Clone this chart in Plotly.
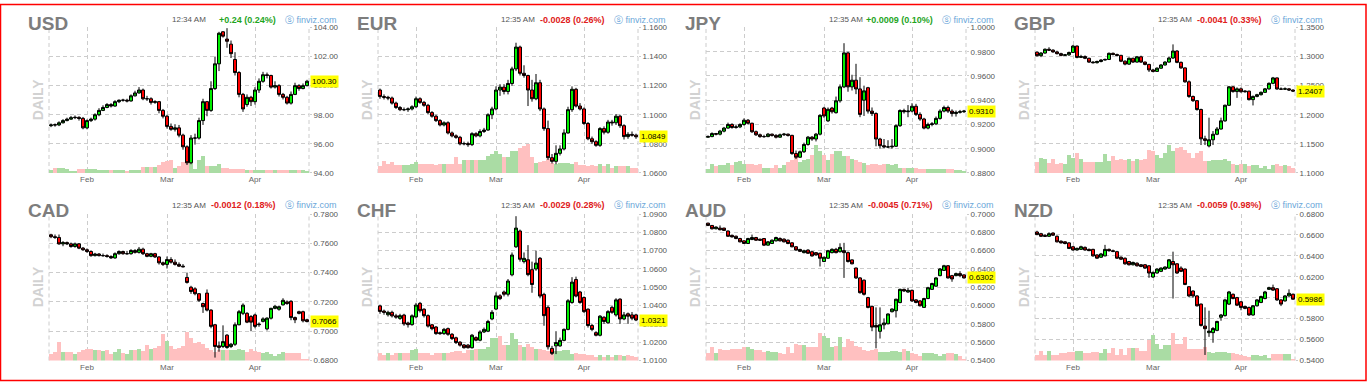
import plotly.graph_objects as go
import pandas as pd

# ---------------- shared categories ----------------
dates = [d.strftime('%Y-%m-%d') for d in pd.bdate_range('2020-01-21', periods=65)]
month_ticks = ['2020-02-03', '2020-03-02', '2020-04-01']
month_labels = ['Feb', 'Mar', 'Apr']

# ---------------- USD ----------------
usd_open = [97.25,97.32,97.30,97.45,97.60,97.70,97.80,97.82,97.75,97.10, 97.60,97.70,98.00,98.30,98.50,98.70,98.60,98.90,99.00,99.00, 98.95,99.30,99.50,99.70,99.10,99.10,98.85,98.90,98.30,97.90, 97.20,97.00,97.10,96.60,95.80,94.70,96.40,96.40,97.60,98.90, 98.30,99.80,101.50,103.70,103.20,102.85,101.80,100.90,99.40,98.70, 99.20,98.90,99.70,100.30,100.75,100.70,99.90,100.00,99.40,99.20, 98.80,99.40,100.00,99.80,100.00]
usd_close = [97.30,97.30,97.45,97.60,97.70,97.80,97.82,97.75,97.10,97.60, 97.70,98.00,98.30,98.50,98.70,98.60,98.90,99.00,99.00,98.95, 99.30,99.50,99.70,99.10,99.10,98.85,98.90,98.30,97.90,97.20, 97.00,97.10,96.60,95.80,94.70,96.40,96.40,97.60,98.90,98.30, 99.80,101.50,103.60,103.40,103.05,102.20,100.90,99.40,98.40,99.20, 98.90,99.70,100.30,100.75,100.70,99.90,100.00,99.40,99.20,98.80, 99.40,100.00,99.80,100.00,100.30]
usd_high = [97.40,97.40,97.55,97.70,97.80,97.92,97.95,97.90,97.85,97.68, 97.80,98.10,98.45,98.65,98.80,98.80,99.00,99.05,99.10,99.10, 99.40,99.65,99.90,99.80,99.30,99.20,99.00,98.95,98.40,98.00, 97.40,97.35,97.30,96.70,95.90,96.60,96.70,97.80,99.10,98.95, 100.30,102.00,103.70,103.75,103.95,103.10,102.30,101.00,99.50,99.40, 99.30,99.90,100.50,100.95,100.90,100.75,100.30,100.10,99.50,99.30, 99.60,100.20,100.10,100.15,100.40]
usd_low = [97.15,97.18,97.22,97.40,97.55,97.65,97.70,97.60,97.00,97.00, 97.50,97.60,97.90,98.25,98.45,98.50,98.55,98.80,98.90,98.85, 98.90,99.25,99.45,99.00,98.95,98.70,98.75,98.10,97.75,97.05, 96.90,96.85,96.45,95.60,94.55,94.60,95.95,96.30,97.30,97.90, 98.20,99.70,101.00,103.30,102.60,101.90,100.70,99.20,98.20,98.55, 98.60,98.70,99.50,100.20,100.50,99.80,99.80,99.25,99.05,98.70, 98.70,99.35,99.65,99.75,99.95]
usd_vol = [2.3,4.3,4.3,4.3,3.3,1.7,1.7,4,4,4, 3.3,4,2.7,2.7,2.7,2.7,2.7,2.7,2.7,1.7, 2.7,2.7,2.7,5.7,5.7,5.7,5.7,7.7,11,12.3, 13.3,5,6.7,11,11,17.3,3.3,13.3,17.3,6.7, 6.7,6.7,8.3,5,5,3.3,3.3,3.3,3.3,2.7, 2.7,2.3,2.3,2.3,2.7,2.7,2.3,2.7,2.3,2.3, 3,2.3,2.3,2.3,2]
usd_ticks = [94, 96, 98, 100, 102, 104]

# ---------------- EUR ----------------
eur_open = [1.1170,1.1125,1.1120,1.1115,1.1080,1.1050,1.1035,1.1035,1.1040,1.1055, 1.1110,1.1085,1.1065,1.1015,1.0990,1.0960,1.0930,1.0945,1.0875,1.0855, 1.0845,1.0800,1.0802,1.0795,1.0870,1.0855,1.0885,1.0895,1.1000,1.1040, 1.1170,1.1190,1.1160,1.1215,1.1315,1.1465,1.1285,1.1270,1.1170,1.1110, 1.1220,1.1040,1.0905,1.0705,1.0680,1.0735,1.0765,1.0875,1.1035,1.1175, 1.1060,1.1040,1.0940,1.0835,1.0815,1.0790,1.0905,1.0880,1.0950,1.0945, 1.0990,1.0925,1.0850,1.0865,1.0860]
eur_close = [1.1125,1.1120,1.1115,1.1080,1.1050,1.1035,1.1035,1.1040,1.1055,1.1110, 1.1085,1.1065,1.1015,1.0990,1.0960,1.0930,1.0945,1.0875,1.0855,1.0845, 1.0800,1.0802,1.0795,1.0870,1.0855,1.0885,1.0895,1.1000,1.1040,1.1170, 1.1190,1.1160,1.1215,1.1315,1.1465,1.1285,1.1270,1.1170,1.1110,1.1220, 1.1040,1.0905,1.0705,1.0680,1.0735,1.0765,1.0875,1.1035,1.1175,1.1060, 1.1040,1.0940,1.0835,1.0815,1.0790,1.0905,1.0880,1.0950,1.0945,1.0990, 1.0925,1.0850,1.0865,1.0860,1.0849]
eur_high = [1.1180,1.1140,1.1130,1.1125,1.1090,1.1060,1.1050,1.1050,1.1065,1.1125, 1.1120,1.1095,1.1075,1.1025,1.1000,1.0970,1.0955,1.0955,1.0885,1.0865, 1.0855,1.0815,1.0815,1.0880,1.0880,1.0900,1.0910,1.1010,1.1055,1.1195, 1.1210,1.1210,1.1240,1.1330,1.1495,1.1475,1.1340,1.1275,1.1240,1.1280, 1.1240,1.1050,1.0960,1.0730,1.0790,1.0790,1.0900,1.1055,1.1195,1.1185, 1.1080,1.1050,1.0950,1.0850,1.0825,1.0915,1.0920,1.0965,1.0965,1.1005, 1.1000,1.0935,1.0880,1.0885,1.0870]
eur_low = [1.1110,1.1105,1.1100,1.1070,1.1040,1.1025,1.1025,1.1020,1.1030,1.1045, 1.1075,1.1055,1.1005,1.0980,1.0950,1.0920,1.0920,1.0865,1.0845,1.0835, 1.0790,1.0790,1.0780,1.0785,1.0845,1.0845,1.0875,1.0890,1.0970,1.1030, 1.1130,1.1140,1.1140,1.1200,1.1300,1.1270,1.1255,1.1060,1.1090,1.1100, 1.1025,1.0890,1.0690,1.0665,1.0660,1.0720,1.0755,1.0870,1.1020,1.1050, 1.1030,1.0930,1.0825,1.0800,1.0780,1.0780,1.0865,1.0870,1.0925,1.0930, 1.0910,1.0830,1.0835,1.0850,1.0835]
eur_vol = [6.7,12.3,9,11,7.7,7.3,7.3,7.7,8.3,11, 9,9,9,9,7.7,9,9,9,9,16, 9,13.3,13.3,13.3,13.3,13.3,13.3,16.7,19.3,22.7, 19.3,15.7,15.7,22.3,22.3,25,27.3,29,16,10, 10.7,12.3,14.3,10,9,10,10,10,9,10.7, 7.7,7.7,6.7,7.7,6.7,9,6.7,9,4.3,6.7, 6.7,6.7,6.7,4.3,4.3]
eur_ticks = [1.06, 1.08, 1.10, 1.12, 1.14, 1.16]

# ---------------- JPY ----------------
jpy_open = [0.9095,0.9100,0.9125,0.9120,0.9145,0.9170,0.9200,0.9175,0.9180,0.9200, 0.9235,0.9210,0.9140,0.9115,0.9100,0.9100,0.9120,0.9110,0.9095,0.9115, 0.9120,0.9110,0.8960,0.8930,0.8975,0.9035,0.9095,0.9080,0.9120,0.9335, 0.9230,0.9335,0.9297,0.9395,0.9510,0.9790,0.9510,0.9565,0.9493,0.9400, 0.9503,0.9310,0.9290,0.9080,0.9025,0.9015,0.9015,0.9020,0.9190,0.9315, 0.9305,0.9310,0.9350,0.9283,0.9245,0.9170,0.9200,0.9205,0.9250,0.9310, 0.9340,0.9310,0.9290,0.9300,0.9305]
jpy_close = [0.9100,0.9125,0.9120,0.9145,0.9170,0.9200,0.9175,0.9180,0.9200,0.9235, 0.9210,0.9140,0.9115,0.9100,0.9100,0.9120,0.9110,0.9095,0.9115,0.9120, 0.9110,0.8960,0.8930,0.8975,0.9035,0.9095,0.9080,0.9120,0.9275,0.9270, 0.9325,0.9305,0.9395,0.9510,0.9790,0.9510,0.9565,0.9493,0.9283,0.9477, 0.9310,0.9290,0.9080,0.9025,0.9015,0.9015,0.9020,0.9190,0.9315,0.9305, 0.9310,0.9350,0.9283,0.9245,0.9170,0.9200,0.9205,0.9250,0.9310,0.9340, 0.9310,0.9290,0.9300,0.9305,0.9310]
jpy_high = [0.9110,0.9135,0.9130,0.9155,0.9180,0.9215,0.9210,0.9195,0.9210,0.9250, 0.9245,0.9215,0.9150,0.9125,0.9115,0.9130,0.9125,0.9120,0.9125,0.9130, 0.9125,0.9115,0.8985,0.8985,0.9050,0.9105,0.9105,0.9130,0.9285,0.9345, 0.9340,0.9345,0.9430,0.9530,0.9870,0.9800,0.9610,0.9700,0.9590,0.9520, 0.9510,0.9340,0.9300,0.9090,0.9080,0.9070,0.9080,0.9200,0.9325,0.9330, 0.9360,0.9375,0.9370,0.9300,0.9255,0.9215,0.9220,0.9265,0.9325,0.9355, 0.9355,0.9325,0.9315,0.9320,0.9320]
jpy_low = [0.9090,0.9095,0.9110,0.9110,0.9135,0.9165,0.9165,0.9165,0.9170,0.9190, 0.9200,0.9130,0.9105,0.9090,0.9090,0.9095,0.9100,0.9085,0.9090,0.9105, 0.9100,0.8950,0.8915,0.8925,0.8965,0.9025,0.9065,0.9060,0.9110,0.9255, 0.9220,0.9290,0.9290,0.9380,0.9500,0.9470,0.9480,0.9450,0.9260,0.9270, 0.9290,0.9270,0.9020,0.9000,0.9005,0.9005,0.9000,0.9015,0.9180,0.9290, 0.9260,0.9300,0.9270,0.9230,0.9160,0.9160,0.9185,0.9195,0.9240,0.9300, 0.9295,0.9265,0.9265,0.9290,0.9295]
jpy_vol = [3.3,9.3,6.7,7.7,7.7,10,7.7,11,12,9.3, 9.3,9,7.7,9,5,4.3,5,7.7,4.3,7.7, 11,13.3,15.7,11,13.3,14.3,18.3,28.3,21.7,18.3, 13.3,19.3,21.7,22.3,17.3,16.7,14.3,12.7,11,10, 7.7,9,9,7.7,9,8.3,7.7,9,5,4.3, 5,4.3,4.3,3.3,3.3,3.3,3.3,3.3,3.3,3.3, 3.3,3.3,2.3,2.3,0.7]
jpy_ticks = [0.88, 0.90, 0.92, 0.94, 0.96, 0.98, 1.00]

# ---------------- GBP ----------------
gbp_open = [1.3075,1.3015,1.3060,1.3125,1.3110,1.3080,1.3050,1.3020,1.3030,1.3070, 1.3180,1.2985,1.3000,1.2970,1.2905,1.2895,1.2915,1.2940,1.2950,1.3055, 1.3035,1.3020,1.2920,1.2870,1.2970,1.2905,1.2995,1.2905,1.2865,1.2770, 1.2745,1.2800,1.2855,1.2905,1.2975,1.3095,1.2900,1.2805,1.2566,1.2314, 1.2242,1.2090,1.1587,1.1465,1.1570,1.1665,1.1755,1.1895,1.2163,1.2480, 1.2398,1.2445,1.2395,1.2405,1.2260,1.2315,1.2345,1.2385,1.2445,1.2540, 1.2633,1.2443,1.2440,1.2445,1.2425]
gbp_close = [1.3015,1.3060,1.3125,1.3110,1.3080,1.3050,1.3020,1.3030,1.3070,1.3180, 1.2985,1.3000,1.2970,1.2905,1.2895,1.2915,1.2940,1.2950,1.3055,1.3035, 1.3020,1.2920,1.2870,1.2970,1.2905,1.2995,1.2905,1.2865,1.2770,1.2745, 1.2800,1.2855,1.2905,1.2975,1.3095,1.2900,1.2805,1.2566,1.2314,1.2242, 1.2090,1.1587,1.1560,1.1570,1.1665,1.1755,1.1895,1.2163,1.2480,1.2398, 1.2445,1.2395,1.2405,1.2260,1.2315,1.2345,1.2385,1.2445,1.2540,1.2633, 1.2443,1.2440,1.2445,1.2425,1.2407]
gbp_high = [1.3090,1.3075,1.3140,1.3160,1.3125,1.3100,1.3065,1.3045,1.3085,1.3200, 1.3190,1.3030,1.3020,1.2980,1.2920,1.2930,1.2955,1.2965,1.3070,1.3070, 1.3050,1.3030,1.2935,1.2985,1.2980,1.3010,1.3015,1.2915,1.2875,1.2790, 1.2815,1.2870,1.2920,1.2995,1.3209,1.3110,1.2915,1.2815,1.2590,1.2330, 1.2250,1.2105,1.1640,1.1950,1.1720,1.1790,1.1950,1.2175,1.2495,1.2490, 1.2470,1.2470,1.2420,1.2415,1.2330,1.2360,1.2400,1.2460,1.2555,1.2650, 1.2640,1.2470,1.2470,1.2460,1.2435]
gbp_low = [1.3000,1.2990,1.3050,1.3095,1.3065,1.3035,1.3005,1.3010,1.3010,1.3060, 1.2970,1.2975,1.2955,1.2890,1.2880,1.2880,1.2900,1.2930,1.2940,1.3020, 1.3000,1.2905,1.2850,1.2855,1.2890,1.2895,1.2890,1.2850,1.2735,1.2730, 1.2735,1.2790,1.2845,1.2895,1.2960,1.2885,1.2790,1.2550,1.2290,1.2220, 1.2070,1.1480,1.1480,1.1440,1.1480,1.1650,1.1745,1.1880,1.2150,1.2380, 1.2290,1.2380,1.2380,1.2245,1.2160,1.2300,1.2330,1.2375,1.2430,1.2525, 1.2430,1.2425,1.2425,1.2410,1.2390]
gbp_vol = [10.7,15,14.3,10,14,9.3,10,8.3,18.3,15, 20,14,11,11,11,11,11,19,11.7,17.3, 13.3,14,13.3,14,11.7,14,13.3,14,23.3,21.7, 18.3,15,20,28.3,21.7,25,26.7,23.3,20,15, 20,21.7,11.7,11.7,13.3,13.3,13.3,14,11.7,8.3, 7.7,8.3,9,6.7,7.7,7.3,5,6.7,3.3,7.7, 8.3,6.7,7.3,6.7,5]
gbp_ticks = [1.10, 1.15, 1.20, 1.25, 1.30, 1.35]

# ---------------- CAD ----------------
cad_open = [0.7658,0.7645,0.7640,0.7596,0.7605,0.7596,0.7578,0.7596,0.7567,0.7556, 0.7544,0.7516,0.7527,0.7516,0.7516,0.7510,0.7500,0.7529,0.7544,0.7529, 0.7529,0.7551,0.7538,0.7560,0.7529,0.7511,0.7529,0.7507,0.7467,0.7456, 0.7489,0.7471,0.7456,0.7444,0.7367,0.7300,0.7289,0.7256,0.7189,0.7260, 0.7144,0.7044,0.6900,0.6896,0.6973,0.6896,0.6911,0.7044,0.7122,0.7122, 0.7100,0.7111,0.7049,0.7067,0.7016,0.7089,0.7156,0.7150,0.7180,0.7200, 0.7204,0.7093,0.7133,0.7133,0.7078]
cad_close = [0.7645,0.7640,0.7596,0.7605,0.7596,0.7578,0.7596,0.7567,0.7556,0.7544, 0.7516,0.7527,0.7516,0.7516,0.7510,0.7500,0.7529,0.7544,0.7529,0.7529, 0.7551,0.7538,0.7560,0.7529,0.7511,0.7529,0.7507,0.7467,0.7456,0.7489, 0.7471,0.7456,0.7444,0.7440,0.7333,0.7271,0.7256,0.7211,0.7167,0.7144, 0.7033,0.6896,0.6890,0.6929,0.6889,0.6911,0.7044,0.7133,0.7178,0.7062, 0.7062,0.7033,0.7045,0.7084,0.7089,0.7156,0.7170,0.7167,0.7211,0.7189, 0.7093,0.7078,0.7122,0.7071,0.7066]
cad_high = [0.7665,0.7660,0.7660,0.7615,0.7612,0.7605,0.7605,0.7602,0.7575,0.7565, 0.7552,0.7535,0.7533,0.7530,0.7525,0.7518,0.7538,0.7552,0.7550,0.7548, 0.7560,0.7560,0.7575,0.7570,0.7535,0.7535,0.7535,0.7512,0.7475,0.7510, 0.7505,0.7490,0.7470,0.7458,0.7400,0.7310,0.7300,0.7260,0.7195,0.7285, 0.7150,0.7050,0.6930,0.7040,0.6980,0.6920,0.7060,0.7145,0.7190,0.7130, 0.7110,0.7120,0.7060,0.7095,0.7095,0.7160,0.7180,0.7175,0.7225,0.7210, 0.7212,0.7100,0.7140,0.7140,0.7085]
cad_low = [0.7635,0.7630,0.7590,0.7580,0.7588,0.7570,0.7570,0.7560,0.7548,0.7535, 0.7508,0.7510,0.7510,0.7508,0.7502,0.7494,0.7495,0.7522,0.7522,0.7522, 0.7522,0.7530,0.7530,0.7520,0.7505,0.7505,0.7500,0.7455,0.7445,0.7428, 0.7462,0.7448,0.7438,0.7435,0.7325,0.7255,0.7245,0.7200,0.7125,0.7135, 0.7020,0.6820,0.6860,0.6885,0.6880,0.6885,0.6900,0.7040,0.7110,0.7055, 0.7000,0.7020,0.7030,0.7060,0.7005,0.7080,0.7150,0.7140,0.7175,0.7180, 0.7075,0.7055,0.7115,0.7060,0.7060]
cad_vol = [6.7,9,19,9,9,8.3,6.7,9,10.7,11.7, 11.7,10.7,10.7,9.3,10.7,6.7,8.3,11.7,7.3,6.7, 10.7,10.7,11.7,10,16,11.7,13.3,15,26.7,20, 15,12.3,13.3,15,29,23.3,18.3,19.3,16.7,13.3, 10.7,9,10.7,10.7,10.7,10.7,10.7,11.7,10.7,8.3, 11.7,10,8.3,7.7,8.3,6.7,5,6.7,8.7,7.3, 7.3,7.3,7.3,1.7,1.7]
cad_ticks = [0.68, 0.70, 0.72, 0.74, 0.76, 0.78]

# ---------------- CHF ----------------
chf_open = [1.0398,1.0370,1.0350,1.0363,1.0344,1.0330,1.0348,1.0305,1.0296,1.0338, 1.0412,1.0380,1.0345,1.0295,1.0283,1.0252,1.0247,1.0274,1.0243,1.0224, 1.0200,1.0185,1.0184,1.0170,1.0225,1.0211,1.0256,1.0260,1.0327,1.0381, 1.0453,1.0474,1.0462,1.0568,1.0721,1.0807,1.0640,1.0650,1.0596,1.0600, 1.0658,1.0461,1.0390,1.0166,1.0180,1.0180,1.0210,1.0270,1.0417,1.0542, 1.0474,1.0444,1.0380,1.0291,1.0252,1.0238,1.0336,1.0306,1.0390,1.0349, 1.0435,1.0327,1.0355,1.0349,1.0349]
chf_close = [1.0368,1.0363,1.0363,1.0344,1.0337,1.0345,1.0300,1.0296,1.0344,1.0403, 1.0372,1.0345,1.0288,1.0274,1.0247,1.0247,1.0270,1.0243,1.0220,1.0198, 1.0184,1.0170,1.0170,1.0238,1.0211,1.0256,1.0270,1.0313,1.0363,1.0453, 1.0438,1.0462,1.0534,1.0676,1.0823,1.0653,1.0658,1.0569,1.0515,1.0632, 1.0452,1.0345,1.0175,1.0139,1.0198,1.0210,1.0270,1.0426,1.0528,1.0452, 1.0417,1.0367,1.0291,1.0270,1.0238,1.0342,1.0313,1.0367,1.0363,1.0431, 1.0327,1.0349,1.0342,1.0331,1.0321]
chf_high = [1.0405,1.0378,1.0372,1.0372,1.0355,1.0355,1.0355,1.0312,1.0352,1.0415, 1.0420,1.0385,1.0352,1.0300,1.0288,1.0258,1.0278,1.0280,1.0250,1.0230, 1.0206,1.0190,1.0190,1.0245,1.0232,1.0265,1.0280,1.0322,1.0375,1.0472, 1.0462,1.0482,1.0545,1.0690,1.0888,1.0815,1.0690,1.0730,1.0640,1.0700, 1.0665,1.0470,1.0400,1.0180,1.0260,1.0225,1.0275,1.0435,1.0555,1.0558, 1.0480,1.0450,1.0385,1.0300,1.0260,1.0348,1.0342,1.0375,1.0398,1.0440, 1.0440,1.0365,1.0362,1.0365,1.0355]
chf_low = [1.0355,1.0350,1.0340,1.0335,1.0328,1.0322,1.0290,1.0280,1.0290,1.0330, 1.0362,1.0335,1.0280,1.0265,1.0240,1.0240,1.0240,1.0235,1.0212,1.0190, 1.0176,1.0165,1.0165,1.0165,1.0205,1.0205,1.0250,1.0255,1.0320,1.0375, 1.0430,1.0450,1.0450,1.0560,1.0715,1.0640,1.0630,1.0560,1.0470,1.0590, 1.0440,1.0290,1.0160,1.0130,1.0135,1.0175,1.0205,1.0265,1.0410,1.0445, 1.0410,1.0360,1.0280,1.0260,1.0232,1.0232,1.0300,1.0300,1.0355,1.0340, 1.0300,1.0320,1.0300,1.0320,1.0315]
chf_vol = [7.3,5.7,7.3,5.7,7.3,7.3,7.3,7.3,10.7,11.7, 8,7.3,8,5.7,7.3,7.3,7.3,7.3,9,9.7, 9.7,7.3,10.7,10.7,12.3,12.3,12.3,14,23.3,23.3, 24.7,15.7,15.7,28.3,22.3,15.7,14,17.3,14,12.3, 12.3,10.7,10,10.7,9.7,9.7,10.7,10.7,6.7,7.3, 6.7,6.7,5.7,5.7,4,5.7,4,5.7,4,5.7, 5.7,5,5.7,5,3.3]
chf_ticks = [1.01, 1.02, 1.03, 1.04, 1.05, 1.06, 1.07, 1.08, 1.09]

# ---------------- AUD ----------------
aud_open = [0.6900,0.6875,0.6839,0.6846,0.6846,0.6814,0.6767,0.6757,0.6732,0.6707, 0.6678,0.6721,0.6743,0.6725,0.6732,0.6660,0.6678,0.6707,0.6732,0.6725, 0.6714,0.6685,0.6642,0.6613,0.6578,0.6606,0.6588,0.6578,0.6571,0.6481, 0.6517,0.6578,0.6614,0.6588,0.6600,0.6578,0.6499,0.6410,0.6302,0.6277, 0.6087,0.5991,0.5783,0.5719,0.5790,0.5801,0.5933,0.5944,0.6033,0.6177, 0.6148,0.6166,0.6062,0.6051,0.5980,0.6077,0.6177,0.6212,0.6327,0.6384, 0.6435,0.6327,0.6327,0.6349,0.6335]
aud_close = [0.6875,0.6839,0.6857,0.6828,0.6821,0.6757,0.6750,0.6732,0.6696,0.6678, 0.6732,0.6743,0.6714,0.6714,0.6660,0.6696,0.6714,0.6743,0.6707,0.6696, 0.6678,0.6642,0.6606,0.6592,0.6599,0.6571,0.6542,0.6553,0.6517,0.6527, 0.6599,0.6614,0.6578,0.6635,0.6578,0.6481,0.6456,0.6302,0.6141,0.6123, 0.5980,0.5765,0.5765,0.5790,0.5810,0.5908,0.5962,0.6069,0.6177,0.6159, 0.6166,0.6051,0.6034,0.5998,0.6077,0.6195,0.6241,0.6302,0.6399,0.6435, 0.6302,0.6291,0.6349,0.6327,0.6302]
aud_high = [0.6905,0.6880,0.6865,0.6875,0.6850,0.6820,0.6775,0.6765,0.6740,0.6712, 0.6740,0.6775,0.6750,0.6730,0.6738,0.6705,0.6722,0.6752,0.6745,0.6735, 0.6722,0.6692,0.6650,0.6620,0.6610,0.6615,0.6595,0.6585,0.6578,0.6535, 0.6608,0.6625,0.6630,0.6680,0.6685,0.6590,0.6505,0.6415,0.6310,0.6285, 0.6095,0.6000,0.5980,0.5980,0.5860,0.5915,0.5970,0.6075,0.6185,0.6185, 0.6195,0.6175,0.6070,0.6060,0.6085,0.6205,0.6250,0.6310,0.6410,0.6445, 0.6442,0.6335,0.6360,0.6375,0.6340]
aud_low = [0.6868,0.6830,0.6832,0.6822,0.6815,0.6750,0.6743,0.6725,0.6690,0.6672, 0.6672,0.6715,0.6705,0.6708,0.6650,0.6655,0.6672,0.6700,0.6700,0.6690, 0.6670,0.6636,0.6600,0.6586,0.6570,0.6565,0.6535,0.6545,0.6427,0.6475, 0.6510,0.6570,0.6570,0.6580,0.6302,0.6470,0.6450,0.6290,0.6130,0.6110, 0.5970,0.5720,0.5533,0.5640,0.5740,0.5795,0.5925,0.5870,0.6025,0.6150, 0.6140,0.6040,0.6025,0.5990,0.5975,0.6070,0.6170,0.6205,0.6320,0.6380, 0.6295,0.6260,0.6320,0.6310,0.6295]
aud_vol = [7.3,14,7.3,12.3,10.7,10.7,12.3,11.3,12.3,14, 14,12.3,10.7,10.7,9,9.7,9,9,7.3,6.3, 14,7.3,17.3,15.7,16.3,14,14,14,28.3,25, 23.3,14,15,24,14,21.7,19.7,15,14,10.7, 9.7,10.7,11.7,8.3,9,9,9.7,9.7,8.3,12.3, 9.7,7.3,6.7,5,7.3,7.3,7.3,6.3,5,6.3, 7.3,7.3,6.7,5,1.7]
aud_ticks = [0.54, 0.56, 0.58, 0.60, 0.62, 0.64, 0.66, 0.68, 0.70]

# ---------------- NZD ----------------
nzd_open = [0.6628,0.6612,0.6596,0.6587,0.6618,0.6587,0.6540,0.6534,0.6524,0.6487, 0.6456,0.6462,0.6481,0.6462,0.6462,0.6409,0.6387,0.6400,0.6462,0.6449, 0.6440,0.6387,0.6377,0.6346,0.6315,0.6330,0.6315,0.6315,0.6305,0.6198, 0.6236,0.6252,0.6274,0.6283,0.6346,0.6324,0.6283,0.6274,0.6105,0.6064, 0.6017,0.5939,0.5729,0.5666,0.5666,0.5688,0.5813,0.5829,0.5939,0.6033, 0.6001,0.5961,0.5917,0.5907,0.5835,0.5923,0.5955,0.5992,0.6080,0.6096, 0.6086,0.5979,0.5970,0.6017,0.6033]
nzd_close = [0.6603,0.6587,0.6587,0.6612,0.6597,0.6534,0.6524,0.6518,0.6471,0.6456, 0.6472,0.6487,0.6456,0.6450,0.6400,0.6378,0.6418,0.6462,0.6449,0.6443, 0.6378,0.6368,0.6324,0.6315,0.6337,0.6305,0.6299,0.6283,0.6236,0.6242, 0.6274,0.6283,0.6293,0.6362,0.6315,0.6236,0.6252,0.6127,0.6017,0.6017, 0.5923,0.5735,0.5704,0.5681,0.5706,0.5773,0.5835,0.5979,0.6055,0.5992, 0.5929,0.5907,0.5898,0.5835,0.5923,0.5979,0.6011,0.6055,0.6096,0.6073, 0.5979,0.5939,0.6017,0.6042,0.5986]
nzd_high = [0.6640,0.6620,0.6605,0.6625,0.6625,0.6595,0.6548,0.6540,0.6530,0.6495, 0.6478,0.6497,0.6490,0.6470,0.6468,0.6415,0.6428,0.6505,0.6470,0.6460, 0.6448,0.6395,0.6385,0.6352,0.6345,0.6338,0.6322,0.6322,0.6310,0.6250, 0.6282,0.6290,0.6300,0.6370,0.6440,0.6330,0.6300,0.6280,0.6110,0.6070, 0.6025,0.5945,0.5908,0.5876,0.5720,0.5780,0.5845,0.5990,0.6065,0.6040, 0.6008,0.5968,0.5925,0.5915,0.5930,0.5985,0.6020,0.6065,0.6105,0.6125, 0.6092,0.5985,0.6025,0.6080,0.6040]
nzd_low = [0.6598,0.6580,0.6580,0.6580,0.6590,0.6528,0.6518,0.6510,0.6465,0.6450, 0.6450,0.6456,0.6450,0.6445,0.6392,0.6372,0.6380,0.6395,0.6440,0.6435, 0.6370,0.6360,0.6315,0.6308,0.6308,0.6298,0.6292,0.6275,0.6190,0.6190, 0.6230,0.6245,0.6268,0.6275,0.5992,0.6228,0.6245,0.6120,0.6005,0.6000, 0.5915,0.5725,0.5453,0.5626,0.5570,0.5680,0.5780,0.5820,0.5930,0.5985, 0.5920,0.5880,0.5890,0.5828,0.5828,0.5915,0.5948,0.5985,0.6075,0.6065, 0.5970,0.5920,0.5962,0.6010,0.5980]
nzd_vol = [5.7,9.7,5.7,9.7,5.7,5.7,7.3,7.3,8.3,8.3, 9.7,9.7,7.3,7.3,8.3,8.3,7.3,12.3,7.3,13, 5.7,12.3,5.7,13,13,13,9.7,9.7,21.3,25.7, 17.3,12.3,15.7,15.7,28.3,17.3,17.3,24,11.7,11.7, 11.7,11.7,14,9,8,9,8.3,8.3,8,7.3, 6.7,5.7,4.7,3.3,5.7,5.7,4.7,5.7,2.3,6.7, 6.7,6.7,6.7,6.7,1.7]
nzd_ticks = [0.54, 0.56, 0.58, 0.60, 0.62, 0.64, 0.66, 0.68]

# ---------------- header texts ----------------
names = ['USD', 'EUR', 'JPY', 'GBP', 'CAD', 'CHF', 'AUD', 'NZD']
times = ['12:34 AM'] + ['12:35 AM'] * 7
changes = ['+0.24 (0.24%)', '-0.0028 (0.26%)', '+0.0009 (0.10%)', '-0.0041 (0.33%)',
           '-0.0012 (0.18%)', '-0.0029 (0.28%)', '-0.0045 (0.71%)', '-0.0059 (0.98%)']

series = [
    (usd_open, usd_high, usd_low, usd_close, usd_vol, usd_ticks, '.2f'),
    (eur_open, eur_high, eur_low, eur_close, eur_vol, eur_ticks, '.4f'),
    (jpy_open, jpy_high, jpy_low, jpy_close, jpy_vol, jpy_ticks, '.4f'),
    (gbp_open, gbp_high, gbp_low, gbp_close, gbp_vol, gbp_ticks, '.4f'),
    (cad_open, cad_high, cad_low, cad_close, cad_vol, cad_ticks, '.4f'),
    (chf_open, chf_high, chf_low, chf_close, chf_vol, chf_ticks, '.4f'),
    (aud_open, aud_high, aud_low, aud_close, aud_vol, aud_ticks, '.4f'),
    (nzd_open, nzd_high, nzd_low, nzd_close, nzd_vol, nzd_ticks, '.4f'),
]

# ---------------- layout geometry (pixels) ----------------
W, H = 1368, 387
col_left = [49, 378, 706, 1035]
plot_w = 260
row_top = [24, 215]
row_bot = [173, 365]
hdr_y = [16, 206]
title_y = [20, 211]

FONT = 'Liberation Sans, Arial, sans-serif'
GRID = '#cccccc'
DASH = '4px,3px'
VOL_UP = '#aadca4'
VOL_DN = '#ffc0c0'

fig = go.Figure()
annotations = []
shapes = []

for p in range(8):
    o, h, l, c, v, ticks, fmt = series[p]
    row, col = divmod(p, 4)
    L = col_left[col]
    top, bot = row_top[row], row_bot[row]
    xd = [L / W, (L + plot_w) / W]
    yd = [1 - bot / H, 1 - top / H]
    xs = '' if p == 0 else str(p + 1)
    yv = 2 * p + 1
    yvs = '' if yv == 1 else str(yv)
    yp = str(2 * p + 2)

    vcol = [VOL_UP if cc >= oo else VOL_DN for oo, cc in zip(o, c)]
    fig.add_trace(go.Bar(x=dates, y=v, marker=dict(color=vcol, line=dict(width=0)),
                         xaxis='x' + xs, yaxis='y' + yvs, hoverinfo='skip', showlegend=False))
    fig.add_trace(go.Candlestick(
        x=dates, open=o, high=h, low=l, close=c,
        xaxis='x' + xs, yaxis='y' + yp, whiskerwidth=0, showlegend=False,
        increasing=dict(fillcolor='#00ee00', line=dict(color='#000000', width=1)),
        decreasing=dict(fillcolor='#ff0000', line=dict(color='#000000', width=1)),
    ))

    fig.layout['xaxis' + xs] = dict(
        domain=xd, anchor='y' + yvs, type='category', categoryorder='array',
        categoryarray=dates, range=[-0.5, 64.5], tickvals=month_ticks, ticktext=month_labels,
        showgrid=True, gridcolor=GRID, griddash=DASH, gridwidth=1, ticks='',
        tickfont=dict(size=8, color='#666666', family=FONT), zeroline=False, showline=False,
        rangeslider=dict(visible=False), fixedrange=True)
    fig.layout['yaxis' + yvs] = dict(domain=yd, anchor='x' + xs, range=[0, 150],
                                     visible=False, fixedrange=True)
    fig.layout['yaxis' + yp] = dict(
        anchor='x' + xs, overlaying='y' + yvs, side='right',
        range=[ticks[0], ticks[-1]], tickvals=ticks, tickformat=fmt,
        showgrid=True, gridcolor=GRID, griddash=DASH, gridwidth=1,
        ticks='outside', ticklen=2, tickcolor=GRID,
        tickfont=dict(size=8, color='#555555', family=FONT),
        zeroline=False, showline=False, fixedrange=True)

    # dashed frame sides
    for xx in (0, 1):
        shapes.append(dict(type='line', xref='x' + xs + ' domain', yref='y' + yvs + ' domain',
                           x0=xx, x1=xx, y0=0, y1=1, layer='below',
                           line=dict(color=GRID, width=1, dash=DASH)))

    # title
    annotations.append(dict(text='<b>' + names[p] + '</b>', xref='paper', yref='paper',
                            x=(L - 23) / W, y=1 - title_y[row] / H, xanchor='left', yanchor='middle',
                            showarrow=False, font=dict(size=19, color='#7d7d7d', family=FONT)))
    # DAILY
    annotations.append(dict(text='<b>DAILY</b>', xref='paper', yref='paper',
                            x=(L - 11) / W, y=1 - (top + bot) / 2 / H, textangle=-90,
                            xanchor='center', yanchor='middle', showarrow=False,
                            font=dict(size=14, color='#d2d2d2', family=FONT)))
    # time
    annotations.append(dict(text=times[p], xref='paper', yref='paper',
                            x=(L + 121) / W, y=1 - hdr_y[row] / H, xanchor='left', yanchor='middle',
                            showarrow=False, font=dict(size=8, color='#555555', family=FONT)))
    # change
    chg_col = '#1fa51f' if changes[p].startswith('+') else '#e02020'
    annotations.append(dict(text='<b>' + changes[p] + '</b>', xref='paper', yref='paper',
                            x=(L + 229) / W, y=1 - hdr_y[row] / H, xanchor='right', yanchor='middle',
                            showarrow=False, font=dict(size=9, color=chg_col, family=FONT)))
    # finviz
    annotations.append(dict(text='ⓢ finviz.com', xref='paper', yref='paper',
                            x=(L + 234) / W, y=1 - hdr_y[row] / H, xanchor='left', yanchor='middle',
                            showarrow=False, font=dict(size=9, color='#6aa6d9', family=FONT)))
    # last price tag
    annotations.append(dict(text=format(c[-1], fmt), xref='paper', yref='y' + yp,
                            x=(L + plot_w + 1) / W, y=c[-1], xanchor='left', yanchor='middle',
                            showarrow=False, bgcolor='#ffff00', borderpad=1,
                            font=dict(size=8, color='#000000', family=FONT)))

# red outer frame
shapes.append(dict(type='rect', xref='paper', yref='paper', x0=0.5 / W, x1=1366 / W,
                   y0=1 - 385.5 / H, y1=1 - 0.5 / H, line=dict(color='#ff0000', width=1.5),
                   fillcolor='rgba(0,0,0,0)', layer='above'))

fig.update_layout(
    width=W, height=H, margin=dict(l=0, r=0, t=0, b=0),
    paper_bgcolor='white', plot_bgcolor='white',
    bargap=0, boxgap=0.25, boxgroupgap=0, showlegend=False,
    annotations=annotations, shapes=shapes,
    font=dict(family=FONT),
)

fig.write_html('out.html', config={'displayModeBar': False},
               post_script="document.body.style.margin='0';document.body.style.overflow='hidden';")
